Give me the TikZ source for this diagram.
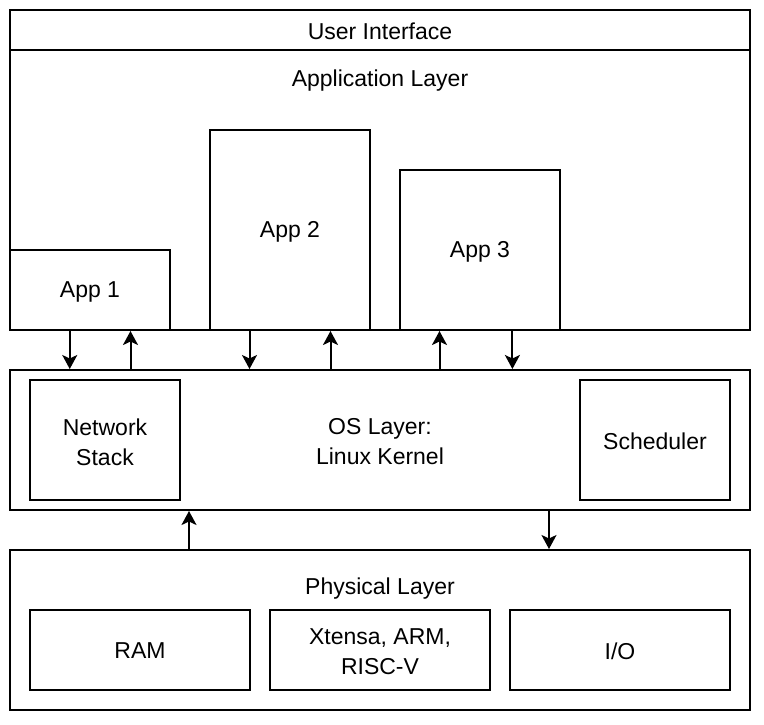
\documentclass[tikz,border=0pt]{standalone}
\usepackage{fontspec}
\setmainfont{Liberation Sans}
\usetikzlibrary{arrows.meta,calc}
\begin{document}
\begin{tikzpicture}[x=1pt,y=-1pt,
  box/.style={draw,line width=2pt,fill=white,inner sep=0pt,rectangle},
  lbl/.style={inner sep=0pt,align=center,font=\fontsize{23}{30}\selectfont},
  arr/.style={line width=2pt,-{Stealth[length=14pt,width=15pt,inset=3.5pt]}}]
\useasboundingbox (0,0) rectangle (764,724);
% layers
\node[box,minimum width=740pt,minimum height=40pt] (ui) at (380,30) {};
\node[lbl] (uit) at (380,31) {User Interface};
\node[box,minimum width=740pt,minimum height=280pt] (app) at (380,190) {};
\node[lbl] (appt) at (380,81) {Application Layer};
\node[box,minimum width=160pt,minimum height=80pt] (app1) at (90,290) {};
\node[lbl] (app1t) at (90,292) {App 1};
\node[box,minimum width=160pt,minimum height=200pt] (app2) at (290,230) {};
\node[lbl] (app2t) at (290,232) {App 2};
\node[box,minimum width=160pt,minimum height=160pt] (app3) at (480,250) {};
\node[lbl] (app3t) at (480,252) {App 3};
\node[box,minimum width=740pt,minimum height=140pt] (os) at (380,440) {};
\node[lbl] (ost) at (380,442) {OS Layer:\\Linux Kernel};
\node[box,minimum width=150pt,minimum height=120pt] (net) at (105,440) {};
\node[lbl] (nett) at (105,442) {Network\\Stack};
\node[box,minimum width=150pt,minimum height=120pt] (sch) at (655,440) {};
\node[lbl] (scht) at (655,441) {Scheduler};
\node[box,minimum width=740pt,minimum height=160pt] (phys) at (380,630) {};
\node[lbl] (physt) at (380,589) {Physical Layer};
\node[box,minimum width=220pt,minimum height=80pt] (ram) at (140,650) {};
\node[lbl] (ramt) at (140,651) {RAM};
\node[box,minimum width=220pt,minimum height=80pt] (cpu) at (380,650) {};
\node[lbl] (cput) at (380,652) {Xtensa, ARM,\\RISC-V};
\node[box,minimum width=220pt,minimum height=80pt] (io) at (620,650) {};
\node[lbl] (iot) at (620,651) {I/O};
% arrow anchors
\coordinate (a1d) at ($(app1.south west)!0.375!(app1.south east)$);
\coordinate (a1u) at ($(app1.south west)!0.75!(app1.south east)$);
\coordinate (a2d) at ($(app2.south west)!0.25!(app2.south east)$);
\coordinate (a2u) at ($(app2.south west)!0.75!(app2.south east)$);
\coordinate (a3u) at ($(app3.south west)!0.25!(app3.south east)$);
\coordinate (a3d) at ($(app3.south west)!0.7!(app3.south east)$);
\coordinate (pu) at ($(phys.north west)+(180,0)$);
\coordinate (pd) at ($(phys.north west)+(540,0)$);
\draw[arr] (a1d) -- (a1d |- os.north);
\draw[arr] (a1u |- os.north) -- (a1u);
\draw[arr] (a2d) -- (a2d |- os.north);
\draw[arr] (a2u |- os.north) -- (a2u);
\draw[arr] (a3u |- os.north) -- (a3u);
\draw[arr] (a3d) -- (a3d |- os.north);
\draw[arr] (pu) -- (pu |- os.south);
\draw[arr] (pd |- os.south) -- (pd);
\end{tikzpicture}
\end{document}
